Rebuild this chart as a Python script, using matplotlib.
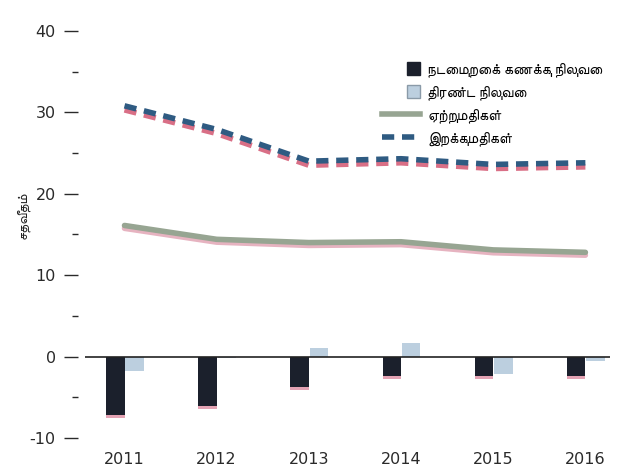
import matplotlib
matplotlib.use("Agg")
import matplotlib.pyplot as plt
import numpy as np
from matplotlib import font_manager
from matplotlib.ft2font import FT2Font
from matplotlib.lines import Line2D
from matplotlib.patches import Patch, Rectangle
from matplotlib.legend_handler import HandlerPatch

# data
years = ["2011", "2012", "2013", "2014", "2015", "2016"]
current_account = [-7.2, -6.1, -3.7, -2.4, -2.4, -2.4]
overall_balance = [-1.8, -0.2, 1.1, 1.7, -2.1, -0.6]
exports = [16.1, 14.4, 14.0, 14.1, 13.1, 12.8]
imports = [30.8, 27.9, 24.0, 24.3, 23.6, 23.8]

legend_labels = ["நடைமுறைக் கணக்கு நிலுவை", "திரண்ட நிலுவை", "ஏற்றுமதிகள்", "இறக்குமதிகள்"]
y_label = "சதவீதம்"

# find installed fonts with Tamil glyphs, prefer a sans one that isn't monospace
cands = []
for f in font_manager.fontManager.ttflist:
    try:
        if ord("த") in FT2Font(f.fname).get_charmap():
            cands.append(f.name)
    except Exception:
        pass
cands.sort(key=lambda n: ("Mono" in n, "Sans" not in n))
tamil = [cands[0]] if cands else []

plt.rcParams["font.family"] = ["DejaVu Sans"]
plt.rcParams["axes.unicode_minus"] = False
tamil_family = tamil + ["DejaVu Sans"]

fig = plt.figure(figsize=(6.24, 4.76), dpi=100)
ax = fig.add_axes([0.136, 0.080, 0.842, 0.855])

x = np.arange(len(years))
w = 0.2

# pink misregistration shadow seen in the scan
ax.bar(x - 0.1, current_account, w, bottom=-0.4, color="#e4a3b4", zorder=1)
ax.bar(x - 0.1, current_account, w, color="#1b202c", zorder=2)
ax.bar(x + 0.11, overall_balance, w, color="#bccfdf", zorder=2)

ax.plot(x, np.array(exports) - 0.35, color="#e6b3c0", lw=4, zorder=3, solid_capstyle="round")
ax.plot(x, exports, color="#97a592", lw=4, zorder=4, solid_capstyle="round")
ax.plot(x, np.array(imports) - 0.5, color="#d96f86", lw=4, ls=(0, (2.2, 1.4)), zorder=3)
ax.plot(x, imports, color="#2f5b82", lw=4, ls=(0, (2.2, 1.4)), zorder=4)

ax.axhline(0, color="#222222", lw=1.2, zorder=5)

ax.set_xlim(-0.43, 5.27)
ax.set_ylim(-10, 40)
ax.set_xticks(x)
ax.set_xticklabels(years)
ax.set_yticks([-10, 0, 10, 20, 30, 40])
ax.set_yticks([-5, 5, 15, 25, 35], minor=True)

for s in ["top", "right", "bottom", "left"]:
    ax.spines[s].set_visible(False)
ax.spines["left"].set_position(("outward", 5))
ax.tick_params(axis="x", length=0, labelsize=11.5, pad=10, colors="#2a2a2a")
ax.tick_params(axis="y", which="major", length=10, width=1, labelsize=11.5, pad=6, colors="#2a2a2a")
ax.tick_params(axis="y", which="minor", length=4, width=1, colors="#2a2a2a")

fig.text(0.036, 0.548, y_label, rotation=90, ha="center", va="center",
         fontsize=10, family=tamil_family, color="#222222")


def square(legend, orig_handle, xdescent, ydescent, width, height, fontsize):
    s = height * 1.3
    return Rectangle((width - s - xdescent, -ydescent - (s - height) / 2), s, s)


handles = [
    Patch(facecolor="#1b202c", edgecolor="#1b202c"),
    Patch(facecolor="#bccfdf", edgecolor="#8a9aa8"),
    Line2D([], [], color="#97a592", lw=4),
    Line2D([], [], color="#2f5b82", lw=4, ls=(0, (2.2, 1.4))),
]
ax.legend(handles, legend_labels, loc="upper right", bbox_to_anchor=(1.01, 0.955),
          frameon=False, prop={"family": tamil_family, "size": 10.5},
          handlelength=2.6, handletextpad=0.5, labelspacing=0.55,
          handler_map={Patch: HandlerPatch(patch_func=square)})

fig.savefig("out.png", dpi=100, facecolor="white")
